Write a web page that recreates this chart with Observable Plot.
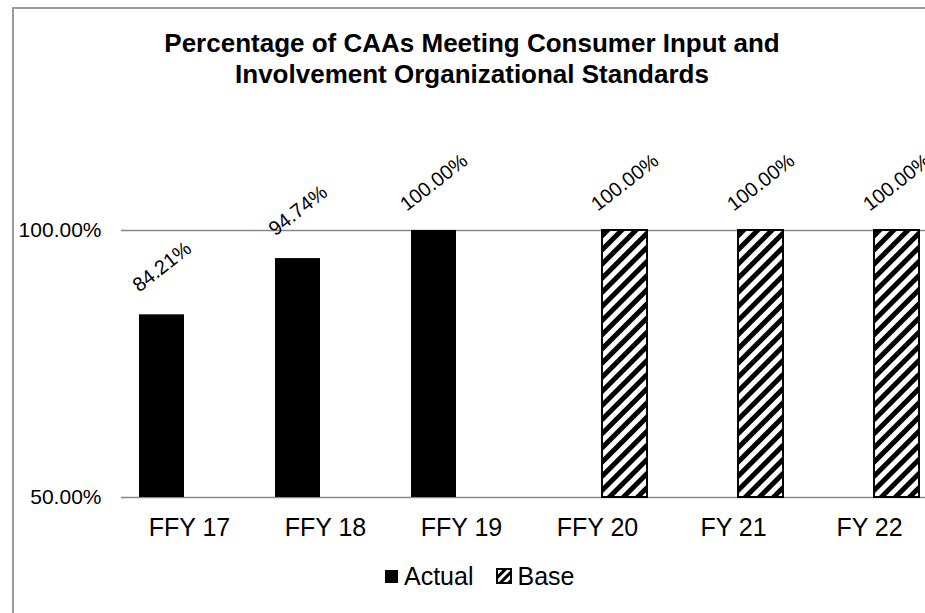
<!DOCTYPE html>
<html>
<head>
<meta charset="utf-8">
<script src="https://cdn.jsdelivr.net/npm/d3@7"></script>
<script src="https://cdn.jsdelivr.net/npm/@observablehq/plot@0.6"></script>
<style>
  html, body { margin: 0; padding: 0; background: #fff; overflow: hidden; width: 925px; height: 613px; }
  body { position: relative; font-family: "Liberation Sans", Arial, sans-serif; }
  #frame { position: absolute; left: 12px; top: 7px; width: 2000px; height: 2000px;
           border-left: 2px solid #9a9a9a; border-top: 2px solid #9a9a9a; box-sizing: border-box; }
  #title { position: absolute; left: 0; top: 28px; width: 944px; text-align: center;
           font-weight: bold; font-size: 26px; line-height: 31px; color: #000; }
  #chart { position: absolute; left: 0; top: 100px; width: 940px; }
  #chart svg { max-width: none !important; width: 940px !important; height: 457px !important; display: block; }
  #legend { position: absolute; left: 385px; top: 561px; font-size: 25px; line-height: 30px;
            display: flex; align-items: center; color: #000; white-space: nowrap; }
  #legend .sw { display: inline-block; width: 13px; height: 13px; box-sizing: border-box; margin-right: 6px; }
  #legend .item { display: flex; align-items: center; margin-right: 23px; }
  svg text { font-family: "Liberation Sans", Arial, sans-serif; }
</style>
</head>
<body>
<div id="frame"></div>
<div id="title">Percentage of CAAs Meeting Consumer Input and<br>Involvement Organizational Standards</div>
<div id="chart"></div>
<div id="legend"></div>
<script>
// ---- data ----
const categories = ["FFY 17", "FFY 18", "FFY 19", "FFY 20", "FY 21", "FY 22"];
const series = ["Actual", "Base"];
const actualValues = [84.21, 94.74, 100, null, null, null];
const baseValues = [null, null, null, 100, 100, 100];
const yTicks = [50, 100];
const yMin = 50;

const rows = [];
categories.forEach((c, i) => {
  if (actualValues[i] != null) rows.push({cat: c, series: "Actual", value: actualValues[i]});
  if (baseValues[i] != null) rows.push({cat: c, series: "Base", value: baseValues[i]});
});
const fmt = v => v.toFixed(2) + "%";

const chart = Plot.plot({
  width: 940,
  height: 457,
  marginLeft: 120,
  marginRight: 2,
  marginTop: 130,
  marginBottom: 60,
  style: {fontFamily: "Liberation Sans, Arial, sans-serif", background: "transparent", overflow: "visible", maxWidth: "none"},
  facet: {data: rows, x: "cat"},
  fx: {domain: categories, padding: 0, axis: "bottom", tickSize: 0, tickPadding: 21, label: null},
  x: {domain: series, paddingInner: 0.19, paddingOuter: 0.31, axis: null},
  y: {domain: [yMin, 100], ticks: yTicks, tickFormat: fmt, tickSize: 0, tickPadding: 20, label: null},
  marks: [
    Plot.ruleY(yTicks, {stroke: "#888", strokeWidth: 1.5}),
    Plot.barY(rows, {filter: d => d.series === "Actual", x: "series", y1: () => yMin, y2: "value", fill: "black"}),
    Plot.barY(rows, {filter: d => d.series === "Base", x: "series", y1: () => yMin, y2: "value", fill: "url(#hatch)", stroke: "black", strokeWidth: 2}),
    Plot.text(rows, {x: "series", y: "value", text: d => fmt(d.value), rotate: -38, dy: -48, fontSize: 20, fill: "black"})
  ]
});

// hatch pattern definition
const svgEl = chart.tagName.toLowerCase() === "svg" ? chart : chart.querySelector("svg");
const svgSel = d3.select(svgEl);
const defs = svgSel.insert("defs", ":first-child");
const pat = defs.append("pattern").attr("id", "hatch").attr("patternUnits", "userSpaceOnUse")
  .attr("width", 10).attr("height", 10).attr("patternTransform", "rotate(45)");
pat.append("rect").attr("width", 10).attr("height", 10).attr("fill", "white");
pat.append("rect").attr("width", 5).attr("height", 10).attr("fill", "black");

// axis label font sizes
svgSel.selectAll("g[aria-label^='y-axis'] text").style("font-size", "21px").attr("fill", "#000");
svgSel.selectAll("g[aria-label^='fx-axis'] text").style("font-size", "25px").attr("fill", "#000");

document.getElementById("chart").appendChild(chart);

// legend
const legend = d3.select("#legend");
const it1 = legend.append("div").attr("class", "item");
it1.append("span").attr("class", "sw").style("background", "black");
it1.append("span").text(series[0]);
const it2 = legend.append("div").attr("class", "item");
const sw2 = it2.append("svg").attr("width", 16).attr("height", 16).style("margin-right", "5px");
const d2 = sw2.append("defs").append("pattern").attr("id", "hatchL").attr("patternUnits", "userSpaceOnUse")
  .attr("width", 6).attr("height", 6).attr("patternTransform", "rotate(45)");
d2.append("rect").attr("width", 6).attr("height", 6).attr("fill", "white");
d2.append("rect").attr("width", 3).attr("height", 6).attr("fill", "black");
sw2.append("rect").attr("x", 1).attr("y", 1).attr("width", 14).attr("height", 14)
  .attr("fill", "url(#hatchL)").attr("stroke", "black").attr("stroke-width", 2);
it2.append("span").text(series[1]);
</script>
</body>
</html>
